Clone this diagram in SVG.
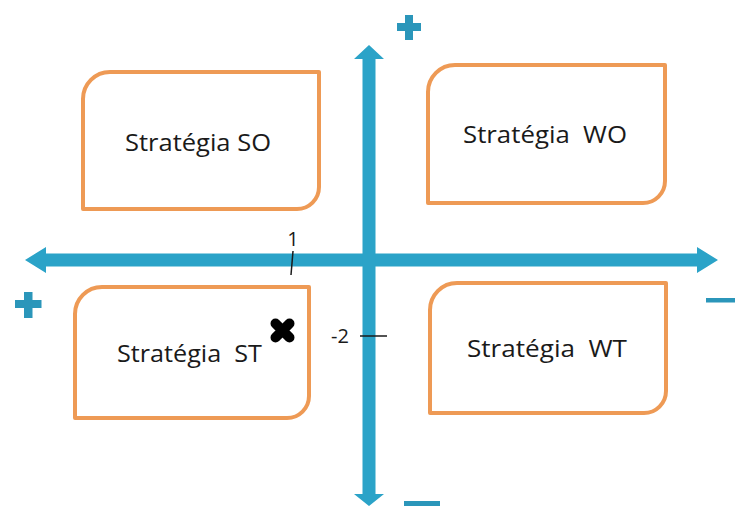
<svg xmlns="http://www.w3.org/2000/svg" width="735" height="507" viewBox="0 0 735 507">
<defs>
<style>
.box{fill:#ffffff;stroke:#ee9a55;stroke-width:4;stroke-linejoin:round}
.lbl{font-family:"Open Sans","Liberation Sans",sans-serif;font-size:24px;fill:#1a1a1a}
.tick{font-family:"Open Sans","Liberation Sans",sans-serif;font-size:20px;fill:#1a1a1a}
.axis{fill:#2ba3c8}
.sign{fill:#2b96ba}
</style>
</defs>
<rect width="735" height="507" fill="#ffffff"/>
<g id="connectors">
<path class="axis" d="M25,260 L46,247 L46,253.5 L697,253.5 L697,247 L718,260 L697,273 L697,266.5 L46,266.5 L46,273 Z"/>
<path class="axis" d="M369,45 L384,59 L375.5,59 L375.5,494 L384,494 L369,506 L354,494 L362.5,494 L362.5,59 L354,59 Z"/>
</g>
<g id="signs">
<path class="sign" d="M405,15 h8 v8 h8 v8 h-8 v9 h-8 v-9 h-8 v-8 h8 Z"/>
<path class="sign" d="M24,292 h8.5 v8 h9 v8 h-9 v10 h-8.5 v-10 h-9 v-8 h9 Z"/>
<rect class="sign" x="706" y="298" width="29" height="4.5"/>
<rect class="sign" x="404" y="501" width="36" height="5"/>
</g>
<g id="node-so">
<path class="box" d="M110,72 H319 V187 A22,22 0 0 1 297,209 H83 V99 A27,27 0 0 1 110,72 Z"/>
<text class="lbl" x="125" y="151" textLength="146" lengthAdjust="spacingAndGlyphs">Stratégia SO</text>
</g>
<g id="node-wo">
<path class="box" d="M455,65 H665 V181 A22,22 0 0 1 643,203 H428 V92 A27,27 0 0 1 455,65 Z"/>
<text class="lbl" x="463" y="143" textLength="164" lengthAdjust="spacingAndGlyphs" xml:space="preserve">Stratégia  WO</text>
</g>
<g id="node-st">
<path class="box" d="M102,287 H309 V396 A22,22 0 0 1 287,418 H75 V314 A27,27 0 0 1 102,287 Z"/>
<text class="lbl" x="117" y="362" textLength="145" lengthAdjust="spacingAndGlyphs" xml:space="preserve">Stratégia  ST</text>
</g>
<g id="node-wt">
<path class="box" d="M457,283 H666 V391 A22,22 0 0 1 644,413 H430 V310 A27,27 0 0 1 457,283 Z"/>
<text class="lbl" x="467" y="357" textLength="160" lengthAdjust="spacingAndGlyphs" xml:space="preserve">Stratégia  WT</text>
</g>
<g id="marker-x">
<path d="M275.5,323.5 L289.5,337.5 M289.5,323.5 L275.5,337.5" stroke="#000000" stroke-width="10" stroke-linecap="round" fill="none"/>
</g>
<g id="ticks">
<text class="tick" x="293" y="246" text-anchor="middle">1</text>
<line x1="293" y1="251" x2="291" y2="275" stroke="#1a1a1a" stroke-width="1.5"/>
<text class="tick" x="331" y="343">-2</text>
<line x1="360" y1="336" x2="387" y2="336" stroke="#1a1a1a" stroke-width="1.5"/>
</g>
</svg>
